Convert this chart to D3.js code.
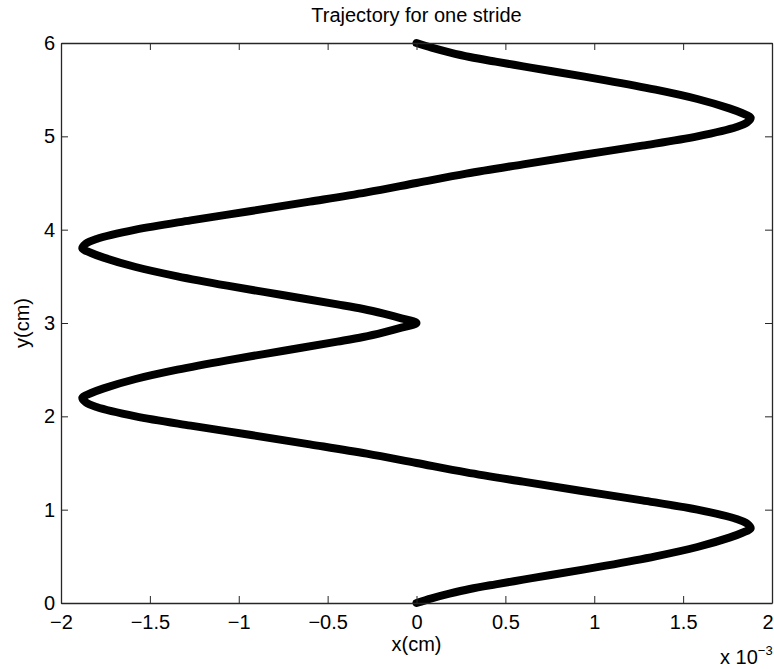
<!DOCTYPE html>
<html>
<head>
<meta charset="utf-8">
<script src="https://cdn.jsdelivr.net/npm/d3@7"></script>
<style>
  body { margin: 0; background: #fff; }
  text { font-family: "Liberation Sans", Arial, Helvetica, sans-serif; fill: #000; }
</style>
</head>
<body>
<div id="wrapper"></div>
<script>
// trajectory: x in units of 1e-3 cm, y in cm
const xVals = [
  0, 0.085, 0.185, 0.30, 0.445, 0.60, 0.755, 1.065, 1.345, 1.58, 1.76, 1.83, 1.88, 1.86, 1.80,
  1.58, 1.27, 0.93, 0.60, 0.28, 0, -0.28, -0.60, -0.93, -1.27, -1.58, -1.80, -1.86, -1.88,
  -1.83, -1.76, -1.58, -1.345, -1.065, -0.755, -0.445, -0.30, -0.185, -0.085, 0,
  -0.085, -0.185, -0.30, -0.445, -0.755, -1.065, -1.345, -1.58, -1.76, -1.83, -1.88,
  -1.86, -1.80, -1.58, -1.27, -0.93, -0.60, -0.28, 0, 0.28, 0.60, 0.93, 1.27, 1.58, 1.80, 1.86, 1.88,
  1.83, 1.76, 1.58, 1.345, 1.065, 0.755, 0.60, 0.445, 0.30, 0.185, 0.085, 0
];
const yVals = [
  0, 0.05, 0.10, 0.15, 0.20, 0.25, 0.30, 0.40, 0.50, 0.60, 0.70, 0.75, 0.80, 0.85, 0.90,
  1.00, 1.10, 1.20, 1.30, 1.40, 1.50, 1.60, 1.70, 1.80, 1.90, 2.00, 2.10, 2.15, 2.20,
  2.25, 2.30, 2.40, 2.50, 2.60, 2.70, 2.80, 2.85, 2.90, 2.95, 3.00,
  3.05, 3.10, 3.15, 3.20, 3.30, 3.40, 3.50, 3.60, 3.70, 3.75, 3.80,
  3.85, 3.90, 4.00, 4.10, 4.20, 4.30, 4.40, 4.50, 4.60, 4.70, 4.80, 4.90, 5.00, 5.10, 5.15, 5.20,
  5.25, 5.30, 5.40, 5.50, 5.60, 5.70, 5.75, 5.80, 5.85, 5.90, 5.95, 6.00
];
const xTicks = [-2, -1.5, -1, -0.5, 0, 0.5, 1, 1.5, 2];
const yTicks = [0, 1, 2, 3, 4, 5, 6];

const points = xVals.map((x, i) => ({x: x, y: yVals[i]}));

const dimension = {
  width: 774,
  height: 669,
  margin: {top: 43, right: 2, bottom: 66, left: 61}
};
dimension.boundedWidth = dimension.width - dimension.margin.left - dimension.margin.right;
dimension.boundedHeight = dimension.height - dimension.margin.top - dimension.margin.bottom;

const svg = d3.select("#wrapper").append("svg")
  .attr("width", dimension.width)
  .attr("height", dimension.height);

const bounded = svg.append("g")
  .attr("transform", `translate(${dimension.margin.left},${dimension.margin.top})`);

const xScaler = d3.scaleLinear().domain([-2, 2]).range([0, dimension.boundedWidth]);
const yScaler = d3.scaleLinear().domain([0, 6]).range([dimension.boundedHeight, 0]);

const tickLen = 7;
const fontSize = "20px";
const fmt = d => (d < 0 ? "\u2212" : "") + Math.abs(d);

// ticks pointing inward on all four sides, like matlab
const xAxisB = d3.axisBottom(xScaler).tickValues(xTicks).tickSizeInner(-tickLen).tickSizeOuter(0).tickPadding(12).tickFormat(fmt);
const xAxisT = d3.axisTop(xScaler).tickValues(xTicks).tickSizeInner(-tickLen).tickSizeOuter(0).tickFormat("");
const yAxisL = d3.axisLeft(yScaler).tickValues(yTicks).tickSizeInner(-tickLen).tickSizeOuter(0).tickPadding(6).tickFormat(fmt);
const yAxisR = d3.axisRight(yScaler).tickValues(yTicks).tickSizeInner(-tickLen).tickSizeOuter(0).tickFormat("");

const lineGenerator = d3.line()
  .x(d => xScaler(d.x))
  .y(d => yScaler(d.y))
  .curve(d3.curveCatmullRom.alpha(0.5));

bounded.append("path")
  .attr("d", lineGenerator(points))
  .attr("fill", "none")
  .attr("stroke", "#000")
  .attr("stroke-width", 8)
  .attr("stroke-linecap", "round")
  .attr("stroke-linejoin", "round");

const axes = [
  [xAxisB, `translate(0,${dimension.boundedHeight})`],
  [xAxisT, "translate(0,0)"],
  [yAxisL, "translate(0,0)"],
  [yAxisR, `translate(${dimension.boundedWidth},0)`]
];
const axisGroups = axes.map(([ax, tr]) => {
  const g = bounded.append("g").attr("transform", tr).call(ax);
  g.selectAll("line").attr("stroke", "#262626");
  g.select(".domain").attr("stroke", "#262626").attr("stroke-width", 1.3);
  g.selectAll("text").style("font-size", fontSize).style("font-family", "Liberation Sans, Arial, sans-serif").attr("fill", "#000");
  return g;
});

// last x label sits against the right edge of the figure
axisGroups[0].selectAll(".tick text")
  .filter(d => d === xTicks[xTicks.length - 1])
  .attr("text-anchor", "end")
  .attr("x", 1);

svg.append("text")
  .attr("x", dimension.margin.left + dimension.boundedWidth / 2)
  .attr("y", 22)
  .attr("text-anchor", "middle")
  .style("font-size", fontSize)
  .text("Trajectory for one stride");

svg.append("text")
  .attr("x", dimension.margin.left + dimension.boundedWidth / 2)
  .attr("y", 651)
  .attr("text-anchor", "middle")
  .style("font-size", fontSize)
  .text("x(cm)");

svg.append("text")
  .attr("transform", `translate(29,${dimension.margin.top + dimension.boundedHeight / 2})rotate(-90)`)
  .attr("text-anchor", "middle")
  .style("font-size", fontSize)
  .text("y(cm)");

const expo = svg.append("text")
  .attr("x", 720)
  .attr("y", 664)
  .style("font-size", fontSize);
expo.append("tspan").text("x 10");
expo.append("tspan").attr("dy", -9).style("font-size", "13px").text("\u22123");
</script>
</body>
</html>
